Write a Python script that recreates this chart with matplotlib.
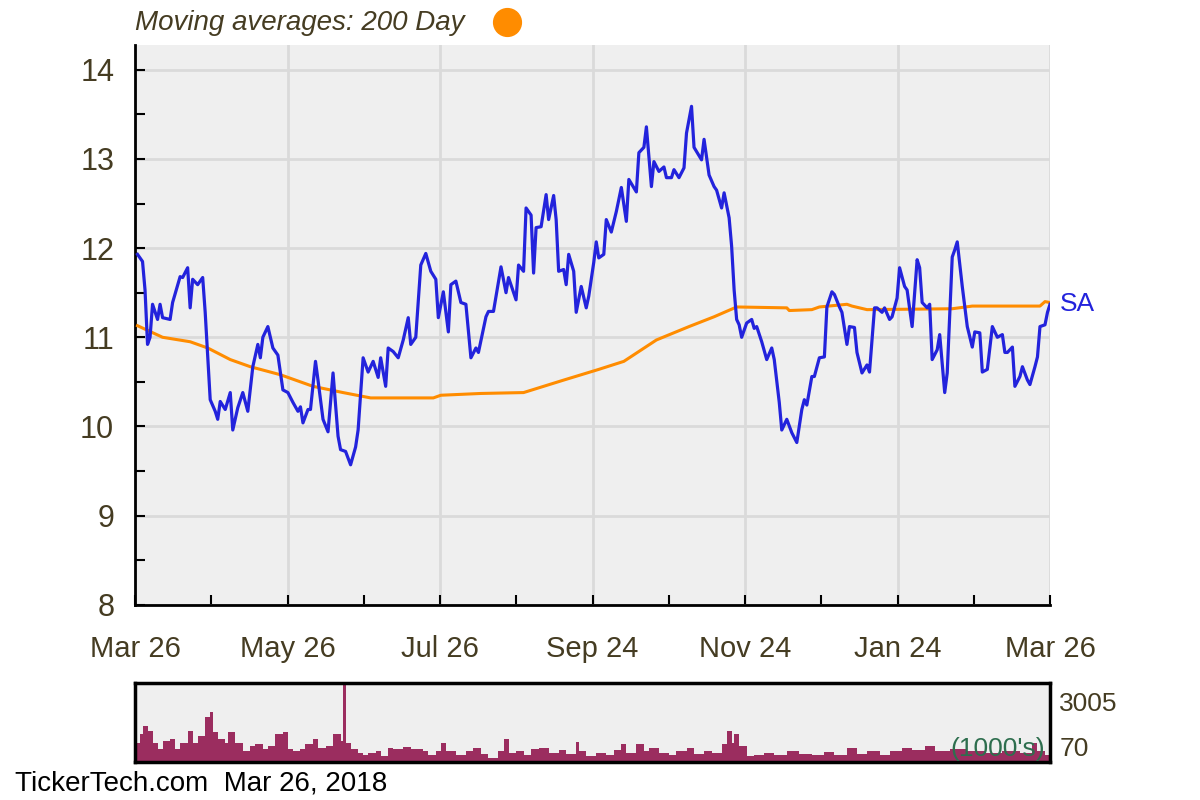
import numpy as np
import matplotlib
matplotlib.use("Agg")
import matplotlib.pyplot as plt

# price trace: days since Mar 26 2017, close price
day = [1, 3, 4, 5, 6, 7, 9, 10, 11, 14, 15, 18, 19, 21, 22, 23, 25, 27, 28, 29,
       30, 32, 33, 34, 36, 38, 39, 41, 43, 45, 47, 49, 50, 51, 53, 55, 57, 59, 61, 63,
       65, 66, 67, 69, 70, 72, 73, 75, 77, 79, 81, 82, 84, 86, 88, 89, 91, 93, 95, 97,
       98, 100, 101, 103, 105, 107, 109, 110, 112, 114, 116, 118, 120, 121, 123, 125, 126, 128, 130, 132,
       134, 136, 137, 140, 141, 143, 146, 148, 149, 152, 153, 155, 156, 158, 159, 160, 162, 164, 165, 167,
       168, 169, 171, 172, 173, 175, 176, 178, 180, 181, 183, 184, 185, 187, 188, 190, 192, 194, 196, 197,
       200, 201, 203, 204, 206, 207, 209, 211, 212, 214, 215, 217, 219, 220, 222, 223, 226, 227, 229, 231,
       232, 234, 235, 237, 238, 239, 240, 241, 242, 244, 246, 247, 248, 250, 252, 254, 255, 257, 258, 260,
       262, 264, 266, 267, 268, 270, 271, 273, 275, 276, 278, 279, 281, 282, 284, 285, 287, 288, 290, 292,
       293, 295, 296, 298, 299, 301, 302, 304, 305, 307, 308, 310, 312, 313, 314, 316, 317, 318, 320, 321,
       323, 324, 326, 327, 328, 330, 332, 334, 335, 337, 338, 340, 342, 344, 346, 347, 348, 350, 351, 353,
       354, 356, 357, 359, 360, 361, 363, 364, 365]
price = [11.93, 11.85, 11.53, 10.92, 11.00, 11.37, 11.20, 11.37, 11.22, 11.20, 11.39, 11.68, 11.67, 11.78, 11.33, 11.65, 11.59, 11.67, 11.28, 10.78,
         10.30, 10.17, 10.08, 10.28, 10.19, 10.38, 9.96, 10.21, 10.38, 10.17, 10.67, 10.92, 10.77, 11.00, 11.12, 10.88, 10.80, 10.41, 10.38, 10.27,
         10.17, 10.22, 10.04, 10.19, 10.19, 10.73, 10.52, 10.08, 9.94, 10.60, 9.89, 9.74, 9.72, 9.57, 9.77, 9.96, 10.77, 10.61, 10.73, 10.55,
         10.77, 10.45, 10.88, 10.84, 10.77, 10.97, 11.22, 10.92, 11.00, 11.81, 11.94, 11.74, 11.65, 11.22, 11.51, 11.06, 11.59, 11.63, 11.39, 11.37,
         10.77, 10.88, 10.83, 11.23, 11.29, 11.29, 11.79, 11.50, 11.67, 11.42, 11.81, 11.74, 12.45, 12.37, 11.72, 12.23, 12.24, 12.60, 12.32, 12.59,
         12.32, 11.74, 11.76, 11.59, 11.93, 11.74, 11.28, 11.57, 11.33, 11.46, 11.84, 12.07, 11.89, 11.93, 12.32, 12.18, 12.41, 12.68, 12.30, 12.77,
         12.63, 13.07, 13.13, 13.36, 12.69, 12.97, 12.86, 12.91, 12.79, 12.79, 12.88, 12.79, 12.90, 13.29, 13.59, 13.13, 12.99, 13.22, 12.82, 12.69,
         12.65, 12.45, 12.62, 12.34, 12.02, 11.53, 11.20, 11.14, 11.00, 11.16, 11.20, 11.10, 11.12, 10.95, 10.75, 10.88, 10.75, 10.27, 9.96, 10.08,
         9.93, 9.82, 10.19, 10.30, 10.24, 10.56, 10.56, 10.77, 10.78, 11.34, 11.51, 11.48, 11.34, 11.28, 10.92, 11.12, 11.11, 10.83, 10.60, 10.69,
         10.61, 11.33, 11.33, 11.28, 11.33, 11.20, 11.23, 11.44, 11.78, 11.57, 11.53, 11.12, 11.87, 11.78, 11.39, 11.33, 11.37, 10.75, 10.86, 11.03,
         10.38, 10.60, 11.90, 11.98, 12.07, 11.57, 11.12, 10.89, 11.06, 11.05, 10.61, 10.64, 11.12, 11.00, 11.03, 10.83, 10.83, 10.89, 10.45, 10.56,
         10.67, 10.52, 10.47, 10.67, 10.78, 11.12, 11.14, 11.28, 11.37]

# 200 day moving average
ma_day = [1, 11, 22, 29, 38, 46, 58, 71, 83, 94, 119, 122, 138, 155, 171, 185, 195, 208, 221, 231,
          240, 260, 261, 270, 273, 284, 286, 292, 326, 334, 361, 363, 365]
ma_price = [11.13, 11.00, 10.95, 10.88, 10.75, 10.67, 10.58, 10.45, 10.38, 10.32, 10.32, 10.35, 10.37, 10.38, 10.52, 10.64, 10.73, 10.97, 11.12, 11.23,
            11.34, 11.33, 11.30, 11.31, 11.34, 11.37, 11.35, 11.31, 11.32, 11.35, 11.35, 11.40, 11.39]

# volume (1000's), block edges in days
vol_edges = [0, 2, 3, 5, 7, 9, 11, 14, 16, 18, 21, 23, 25, 28, 30, 31, 33, 36, 37, 40,
             43, 46, 48, 51, 53, 56, 59, 61, 63, 66, 68, 71, 73, 76, 79, 82, 83, 84, 86, 89,
             91, 93, 96, 98, 101, 103, 107, 110, 115, 117, 120, 122, 124, 128, 132, 135, 138, 141, 145, 147,
             149, 152, 155, 158, 161, 165, 169, 172, 176, 177, 180, 184, 188, 191, 194, 196, 200, 203, 205, 209,
             213, 216, 220, 223, 227, 230, 234, 236, 238, 239, 241, 244, 247, 251, 255, 260, 265, 270, 275, 279,
             284, 288, 292, 297, 301, 306, 310, 315, 319, 325, 332, 339, 346, 353, 358, 360, 363, 365]
vol_k = [741, 1061, 1387, 1192, 741, 479, 804, 867, 479, 741,
         1192, 741, 998, 1711, 1905, 1129, 867, 741, 1129, 741,
         416, 610, 673, 479, 610, 1061, 1129, 479, 416, 479,
         673, 867, 547, 610, 1061, 804, 3005, 741, 479, 353,
         285, 353, 416, 222, 518, 479, 576, 479, 416, 285,
         416, 741, 416, 285, 416, 547, 314, 159, 416, 867,
         353, 416, 285, 479, 547, 353, 440, 314, 780, 416,
         222, 353, 285, 440, 673, 353, 702, 416, 518, 353,
         285, 416, 518, 314, 416, 353, 673, 1168, 741, 1061,
         610, 222, 285, 353, 285, 416, 314, 285, 377, 285,
         518, 314, 416, 285, 416, 518, 440, 610, 416, 479,
         416, 353, 416, 353, 741, 416, 285]

x_labels = ["Mar 26", "May 26", "Jul 26", "Sep 24", "Nov 24", "Jan 24", "Mar 26"]
y_ticks = [8, 9, 10, 11, 12, 13, 14]
symbol = "SA"

TXT = "#453c22"
BG = "#efefef"
plt.rcParams['font.family'] = ['Liberation Sans', 'DejaVu Sans']

fig = plt.figure(figsize=(12, 8), dpi=100)
ax = fig.add_axes([0.1125, 0.244, 0.7625, 0.7])
ax.set_facecolor(BG)

ax.plot(ma_day, ma_price, color="#ff8c00", lw=2.2, zorder=3)
ax.plot(day, price, color="#2323dc", lw=2.3, zorder=4)

ax.set_xlim(0, 365)
ax.set_ylim(8, 14.28)

month_ticks = np.linspace(0, 365, 13)
ax.set_xticks(month_ticks[::2])
ax.set_xticklabels(x_labels)
ax.set_xticks(month_ticks, minor=True)
ax.set_yticks(y_ticks)
ax.set_yticks(np.arange(8, 14.01, 0.5), minor=True)

ax.grid(True, which="major", color="#dadada", lw=2)
ax.set_axisbelow(True)
ax.tick_params(which="both", direction="in", length=7, width=1.5, color="black")
ax.tick_params(axis="x", which="major", pad=22, labelsize=21, labelcolor=TXT)
ax.tick_params(axis="y", which="major", pad=15, labelsize=22, labelcolor=TXT)
for s in ["top", "right"]:
    ax.spines[s].set_visible(False)
for s in ["left", "bottom"]:
    ax.spines[s].set_linewidth(2)

# symbol label at last price
ax.annotate(symbol, (day[-1], price[-1]), xytext=(7, 0), textcoords="offset points",
            color="#2323dc", fontsize=19, va="center", ha="left", annotation_clip=False)

# legend line above chart
fig.text(0.1125, 0.971, "Moving averages: 200 Day", fontsize=20, style="italic",
         color=TXT, va="center", ha="left")
ax.plot([0.407], [1.04], "o", color="#ff8c00", ms=20, transform=ax.transAxes, clip_on=False)

# volume panel
vax = fig.add_axes([0.1125, 0.0475, 0.7625, 0.0985])
vax.set_facecolor(BG)
vax.stairs(vol_k, vol_edges, fill=True, color="#9b2d5f")
vax.set_xlim(0, 365)
vax.set_ylim(0, 3005)
vax.set_xticks([])
vax.set_yticks([])
for s in vax.spines.values():
    s.set_linewidth(2.5)
vax.text(1.01, 0.74, "3005", transform=vax.transAxes, fontsize=19, color=TXT, va="center", ha="left")
vax.text(1.01, 0.17, "70", transform=vax.transAxes, fontsize=19, color=TXT, va="center", ha="left")
vax.text(0.995, 0.17, "(1000's)", transform=vax.transAxes, fontsize=19, color="#2e6e4e",
         va="center", ha="right")

fig.text(0.0125, 0.021, "TickerTech.com  Mar 26, 2018", fontsize=20, color="black",
         va="center", ha="left")

fig.savefig("out.png", dpi=100)
